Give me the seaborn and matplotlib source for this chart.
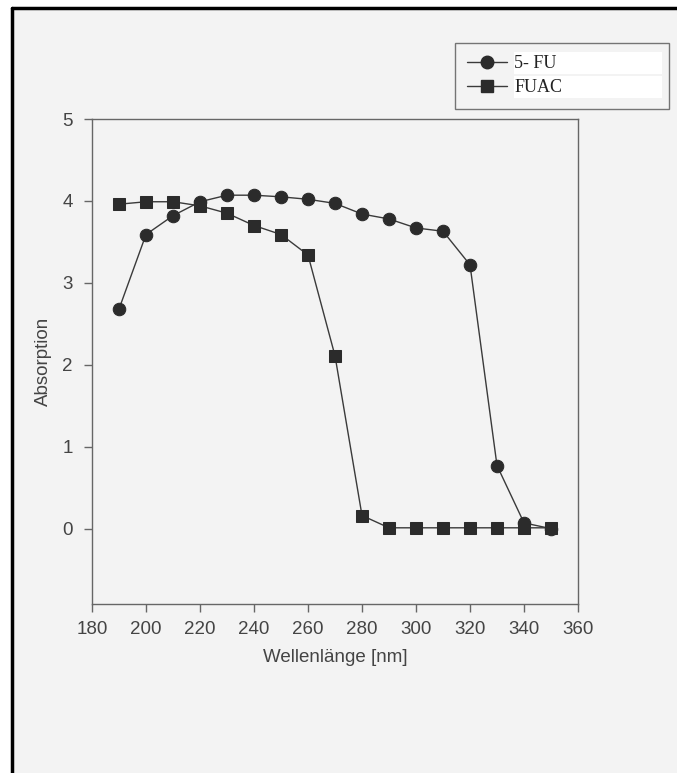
import matplotlib
matplotlib.use("Agg")
import matplotlib.pyplot as plt
import seaborn as sns
import pandas as pd
from matplotlib.lines import Line2D
from matplotlib.patches import Rectangle

wavelength = [190, 200, 210, 220, 230, 240, 250, 260, 270, 280, 290, 300, 310, 320, 330, 340, 350]
fu5 = [2.68, 3.59, 3.82, 3.99, 4.07, 4.07, 4.05, 4.02, 3.97, 3.84, 3.78, 3.67, 3.63, 3.22, 0.77, 0.07, 0.0]
fuac = [3.96, 3.99, 3.99, 3.94, 3.85, 3.70, 3.59, 3.34, 2.11, 0.16, 0.01, 0.01, 0.01, 0.01, 0.01, 0.01, 0.01]
series_names = ["5- FU", "FUAC"]
x_ticks = [180, 200, 220, 240, 260, 280, 300, 320, 340, 360]
y_ticks = [0, 1, 2, 3, 4, 5]

df = pd.DataFrame({
    "Wellenlänge": wavelength * 2,
    "Absorption": fu5 + fuac,
    "Serie": [series_names[0]] * len(wavelength) + [series_names[1]] * len(wavelength),
})

sns.set_theme(style="ticks")
plt.rcParams["font.family"] = ["Liberation Sans", "DejaVu Sans"]

W, H = 677, 773
bg = "#f3f3f3"
fig = plt.figure(figsize=(6.77, 7.73), dpi=100, facecolor="white")


def fx(px):
    return px / W


def fy(py):
    return 1 - py / H


fig.add_artist(Rectangle((fx(12), 0), 1, fy(8), transform=fig.transFigure,
                         facecolor=bg, edgecolor="none", zorder=-10))
fig.add_artist(Line2D([fx(12), 1], [fy(8), fy(8)], transform=fig.transFigure,
                      color="black", lw=2.5))
fig.add_artist(Line2D([fx(12), fx(12)], [0, fy(8)], transform=fig.transFigure,
                      color="black", lw=2.5))

ax = fig.add_axes([fx(92), fy(604), 486 / W, 485 / H])
ax.set_facecolor(bg)

mk_color = "#2b2b2b"
sns.lineplot(data=df, x="Wellenlänge", y="Absorption", hue="Serie", style="Serie",
             markers={"5- FU": "o", "FUAC": "s"}, dashes=False,
             palette={"5- FU": "#3a3a3a", "FUAC": "#3a3a3a"},
             markersize=9, markeredgecolor=mk_color, markerfacecolor=mk_color,
             linewidth=1.0, ax=ax, legend=False)

ax.set_xlim(180, 360)
ax.set_ylim(-0.92, 5)
ax.set_xticks(x_ticks)
ax.set_yticks(y_ticks)
spine_c = "#666666"
for s in ax.spines.values():
    s.set_visible(True)
    s.set_color(spine_c)
    s.set_linewidth(1.0)
ax.tick_params(axis="both", direction="out", length=6, width=1, color=spine_c,
               labelsize=13.5, labelcolor="#444444")
ax.tick_params(axis="y", pad=8)
ax.tick_params(axis="x", pad=6)
ax.set_xlabel("Wellenlänge [nm]", fontsize=13.5, color="#444444", labelpad=8)
ax.set_ylabel("Absorption", fontsize=13.5, color="#444444", labelpad=7)

# white label backgrounds inside the legend box
for top, bot in [(52, 74), (76, 98)]:
    fig.add_artist(Rectangle((fx(514), fy(bot)), (662 - 514) / W, (bot - top) / H,
                             transform=fig.transFigure, facecolor="white",
                             edgecolor="none", zorder=4))

handles = [
    Line2D([], [], color="#3a3a3a", lw=1, marker="o", markersize=9,
           markerfacecolor=mk_color, markeredgecolor=mk_color),
    Line2D([], [], color="#3a3a3a", lw=1, marker="s", markersize=8,
           markerfacecolor=mk_color, markeredgecolor=mk_color),
]
leg = fig.legend(handles, series_names, loc="upper left",
                 bbox_to_anchor=(fx(455), fy(108), 214 / W, 65 / H),
                 mode="expand", frameon=True, fancybox=False,
                 prop={"family": "Liberation Serif", "size": 13},
                 handlelength=2.2, handletextpad=0.4, labelspacing=0.4,
                 borderpad=0.68, borderaxespad=0)
leg.get_frame().set_edgecolor("#555555")
leg.get_frame().set_facecolor("none")
leg.get_frame().set_linewidth(1.0)
for t in leg.get_texts():
    t.set_color("#222222")

fig.savefig("out.png", dpi=100, facecolor=fig.get_facecolor())
